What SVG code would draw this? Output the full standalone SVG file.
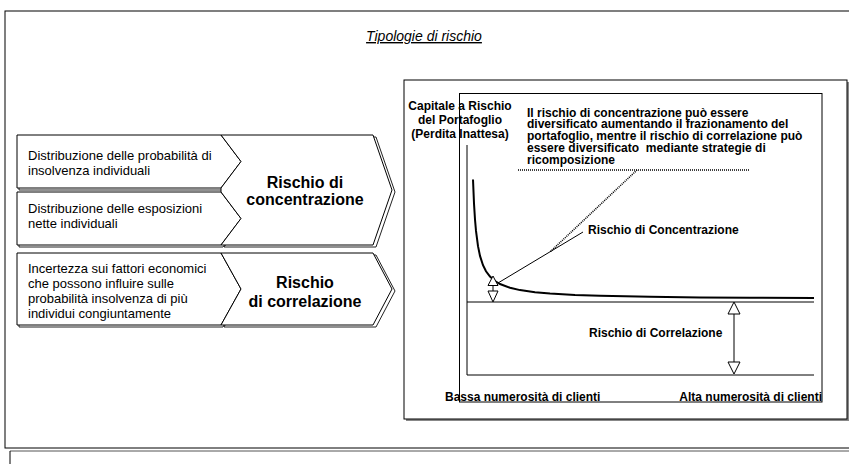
<svg xmlns="http://www.w3.org/2000/svg" width="849" height="464" viewBox="0 0 849 464">
<defs>
<style>
.frame{fill:#fff;stroke:#000;stroke-width:1}
.shape{fill:#fff;stroke:#000;stroke-width:1}
.shadow{fill:#fff;stroke:#222;stroke-width:1}
.small{font-family:"Liberation Sans",Arial,sans-serif;font-size:13px;fill:#000}
.big{font-family:"Liberation Sans",Arial,sans-serif;font-size:16px;font-weight:bold;fill:#000;text-anchor:middle}
.lbl{font-family:"Liberation Sans",Arial,sans-serif;font-size:12px;font-weight:bold;fill:#000}
.para{font-family:"Liberation Sans",Arial,sans-serif;font-size:12px;font-weight:bold;fill:#000}
.thin{fill:none;stroke:#000;stroke-width:1}
.dot{fill:none;stroke:#000;stroke-width:1.6;stroke-dasharray:1 1}
.head{fill:#fff;stroke:#000;stroke-width:1}
</style>
</defs>
<rect x="0" y="0" width="849" height="464" fill="#fff"/>
<rect class="frame" x="5" y="11" width="860" height="437"/>
<line x1="10" y1="451" x2="849" y2="451" stroke="#555" stroke-width="1"/>
<line x1="10" y1="451" x2="10" y2="464" stroke="#000" stroke-width="1"/>
<text x="424" y="41" font-family="Liberation Sans, Arial, sans-serif" font-size="14" font-style="italic" text-decoration="underline" text-anchor="middle">Tipologie di rischio</text>

<g id="box-prob">
<path class="shadow" d="M19,137 L223,137 L243,163.5 L223,190 L19,190 Z"/>
<path class="shape" d="M17,135 L221,135 L241,161.5 L221,188 L17,188 Z"/>
<text class="small" x="28" y="159.5">Distribuzione delle probabilità di</text>
<text class="small" x="28" y="174.5">insolvenza individuali</text>
</g>
<g id="box-esp">
<path class="shadow" d="M19,194 L223,194 L243,220.5 L223,247 L19,247 Z"/>
<path class="shape" d="M17,192 L221,192 L241,218.5 L221,245 L17,245 Z"/>
<text class="small" x="28" y="212.5">Distribuzione delle esposizioni</text>
<text class="small" x="28" y="227.5">nette individuali</text>
</g>
<g id="chev-conc">
<path class="shadow" d="M224,137 L376,137 L395,192 L376,247 L224,247 L244,220.5 L224,194 L224,190 L244,163.5 Z"/>
<path class="shape" d="M221,135 L373,135 L392,190 L373,245 L221,245 L241,218.5 L221,192 L221,188 L241,161.5 Z"/>
<text class="big" x="305" y="188">Rischio di</text>
<text class="big" x="305" y="205">concentrazione</text>
</g>
<g id="box-inc">
<path class="shadow" d="M19,255 L223,255 L243,291 L223,327 L19,327 Z"/>
<path class="shape" d="M17,253 L221,253 L241,289 L221,325 L17,325 Z"/>
<text class="small" x="28" y="272.5">Incertezza sui fattori economici</text>
<text class="small" x="28" y="287.5">che possono influire sulle</text>
<text class="small" x="28" y="302.5">probabilità insolvenza di più</text>
<text class="small" x="28" y="317.5">individui congiuntamente</text>
</g>
<g id="chev-corr">
<path class="shadow" d="M224,255 L376,255 L395,291 L376,327 L224,327 L244,291 Z"/>
<path class="shape" d="M221,253 L373,253 L392,289 L373,325 L221,325 L241,289 Z"/>
<text class="big" x="305" y="288">Rischio</text>
<text class="big" x="305" y="307">di correlazione</text>
</g>

<g id="chart">
<rect x="406" y="82" width="443" height="339" fill="#888"/>
<rect class="frame" x="404" y="80" width="443" height="339"/>
<rect class="thin" x="459.5" y="93.5" width="362.5" height="308.5"/>
<line class="thin" x1="467" y1="145" x2="467" y2="375"/>
<line class="thin" x1="467" y1="375" x2="814" y2="375"/>
<line class="thin" x1="467" y1="302" x2="814" y2="302"/>
<polyline fill="none" stroke="#000" stroke-width="2" points="473,179.5 474,203.5 475,219.5 476,230.9 478,246.2 480,255.9 483,265.2 486,271.3 490,276.6 495,281 500,284 510,287.8 520,290.1 535,292.2 550,293.6 575,295 600,295.8 650,296.8 700,297.4 750,297.8 814,298.1"/>
<text class="lbl" text-anchor="middle" x="460" y="109.5">Capitale a Rischio</text>
<text class="lbl" text-anchor="middle" x="460" y="123.5">del Portafoglio</text>
<text class="lbl" text-anchor="middle" x="460" y="137.5">(Perdita Inattesa)</text>
<text class="para" x="527" y="116.5">Il rischio di concentrazione può essere</text>
<text class="para" x="527" y="128.25">diversificato aumentando il frazionamento del</text>
<text class="para" x="527" y="140">portafoglio, mentre il rischio di correlazione può</text>
<text class="para" x="527" y="151.75" xml:space="preserve">essere diversificato  mediante strategie di</text>
<text class="para" x="527" y="163.5">ricomposizione</text>
<text class="lbl" x="588" y="234">Rischio di Concentrazione</text>
<text class="lbl" x="589" y="337">Rischio di Correlazione</text>
<text class="lbl" x="445" y="401">Bassa numerosità di clienti</text>
<text class="lbl" text-anchor="end" x="822" y="401">Alta numerosità di clienti</text>
</g>

<g id="connectors">
<line class="dot" x1="518" y1="170" x2="750" y2="170"/>
<line class="dot" x1="637" y1="170" x2="550" y2="252"/>
<line class="thin" x1="583" y1="232" x2="498" y2="283"/>
<line class="thin" x1="493" y1="285" x2="493" y2="291"/>
<path class="head" d="M493,276 L498,285.5 L488,285.5 Z"/>
<path class="head" d="M488,291 L498,291 L493,302 Z"/>
<line class="thin" x1="734" y1="314" x2="734" y2="362"/>
<path class="head" d="M734,302 L740,314 L728,314 Z"/>
<path class="head" d="M728,362 L740,362 L734,374 Z"/>
</g>
</svg>
